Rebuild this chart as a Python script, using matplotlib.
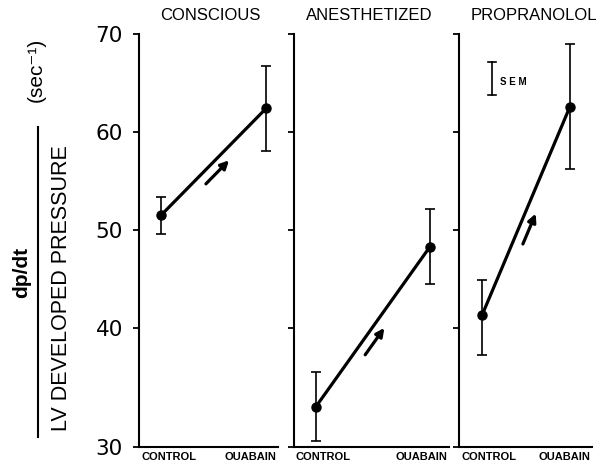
import numpy as np
import matplotlib
matplotlib.use("Agg")
import matplotlib.pyplot as plt
from matplotlib import transforms
from matplotlib.lines import Line2D

# ---- data ----
conditions = ["CONSCIOUS", "ANESTHETIZED", "PROPRANOLOL"]
x_labels = ["CONTROL", "OUABAIN"]
conscious_mean = [51.5, 62.4]
conscious_sem = [1.9, 4.3]
anesthetized_mean = [33.4, 48.3]
anesthetized_sem = [2.9, 3.8]
propranolol_mean = [41.3, 62.6]
propranolol_sem = [3.6, 6.4]
y_ticks = [30, 40, 50, 60, 70]

means = [conscious_mean, anesthetized_mean, propranolol_mean]
sems = [conscious_sem, anesthetized_sem, propranolol_sem]

W, H = 608, 462
fig = plt.figure(figsize=(W / 100, H / 100), dpi=100)

# piecewise linear y scale (30-40 segment drawn taller, as in the original)
K = 119.0 / 98.0
def fwd(y):
    y = np.asarray(y, dtype=float)
    return np.where(y >= 40, y, 40 - (40 - y) * K)
def inv(v):
    v = np.asarray(v, dtype=float)
    return np.where(v >= 40, v, 40 - (40 - v) / K)

# panel layout in pixels: (left spine x, right end x)
panels_px = [(139, 278), (294, 449), (459, 592)]
ctrl_off = [22, 22, 23]
oua_off = [127, 136, 111]
title_x_px = [210, 369, 534]
top_px, bot_px = 34, 447

axes = []
for i, (l, r) in enumerate(panels_px):
    ax = fig.add_axes([l / W, (H - bot_px) / H, (r - l) / W, (bot_px - top_px) / H])
    axes.append(ax)
    ax.set_yscale('function', functions=(fwd, inv))
    ax.set_ylim(30, 70)
    span = oua_off[i] - ctrl_off[i]
    ax.set_xlim(-ctrl_off[i] / span, (r - l - ctrl_off[i]) / span)
    for s in ['top', 'right']:
        ax.spines[s].set_visible(False)
    for s in ['left', 'bottom']:
        ax.spines[s].set_linewidth(1.5)
    ax.set_xticks([])
    ax.set_yticks(y_ticks)
    ax.yaxis.set_minor_locator(matplotlib.ticker.NullLocator())
    ax.tick_params(axis='y', direction='out', length=4.5, width=1.3, pad=7,
                   labelsize=15.5)
    if i == 0:
        ax.set_yticklabels([str(t) for t in y_ticks], family='DejaVu Sans')
    else:
        ax.set_yticklabels([])

    m = means[i]
    e = sems[i]
    xs = [0, 1]
    ax.plot(xs, m, color='black', lw=2.3, solid_capstyle='butt', zorder=3)
    ax.errorbar(xs, m, yerr=e, fmt='o', color='black', ms=6.5, elinewidth=1.2,
                capsize=3.5, capthick=1.2, zorder=4)

    # titles
    ax.text((title_x_px[i] - l) / (r - l), 1.0 + 18 / (bot_px - top_px), conditions[i],
            transform=ax.transAxes, ha='center', va='center', fontsize=12,
            family='Liberation Sans')
    # x category labels
    lab_tr = transforms.offset_copy(ax.transAxes, fig, x=0, y=-5, units='dots')
    ax.text(2 / (r - l), 0, x_labels[0], transform=lab_tr, ha='left', va='top',
            fontsize=8, fontweight='bold', family='Liberation Sans')
    ax.text(1 - 2 / (r - l), 0, x_labels[1], transform=lab_tr, ha='right', va='top',
            fontsize=8, fontweight='bold', family='Liberation Sans')

# arrows parallel to each line, offset below-right
for i, ax in enumerate(axes):
    m = means[i]
    p0 = ax.transData.transform((0, m[0]))
    p1 = ax.transData.transform((1, m[1]))
    d = p1 - p0
    L = np.hypot(*d)
    u = d / L
    nrm = np.array([u[1], -u[0]])  # down-right in display coords
    start = p0 + 0.36 * L * u + 10 * nrm
    end = start + 33 * u
    inv_t = ax.transData.inverted()
    s_d = inv_t.transform(start)
    e_d = inv_t.transform(end)
    ax.annotate('', xy=e_d, xytext=s_d, xycoords='data', textcoords='data',
                arrowprops=dict(arrowstyle='-|>', lw=2.3, color='black',
                                mutation_scale=12, shrinkA=0, shrinkB=0))

# SEM scale bar in third panel
ax3 = axes[2]
bx, yt, yb, cw = 0.248, 0.932, 0.852, 0.03
ax3.plot([bx, bx], [yb, yt], color='black', lw=1.2, transform=ax3.transAxes)
ax3.plot([bx - cw, bx + cw], [yt, yt], color='black', lw=1.2, transform=ax3.transAxes)
ax3.plot([bx - cw, bx + cw], [yb, yb], color='black', lw=1.2, transform=ax3.transAxes)
ax3.text(0.31, 0.883, 'S E M', transform=ax3.transAxes, ha='left', va='center',
         fontsize=7, fontweight='bold', family='Liberation Sans')

# y-axis label as a fraction
fig.text(22 / W, (H - 272) / H, 'dp/dt', rotation=90, ha='center', va='center',
         fontsize=15, fontweight='bold', family='Liberation Sans')
fig.add_artist(Line2D([38 / W, 38 / W], [(H - 437) / H, (H - 127) / H],
                      color='black', lw=1.5, transform=fig.transFigure))
fig.text(62 / W, (H - 288) / H, 'LV DEVELOPED PRESSURE', rotation=90, ha='center',
         va='center', fontsize=15.5, family=['Liberation Sans', 'DejaVu Sans'])
fig.text(36 / W, (H - 70) / H, '(sec\u207b\u00b9)', rotation=90, ha='center',
         va='center', fontsize=15, family=['Liberation Sans', 'DejaVu Sans'])

fig.savefig('out.png', dpi=100)
